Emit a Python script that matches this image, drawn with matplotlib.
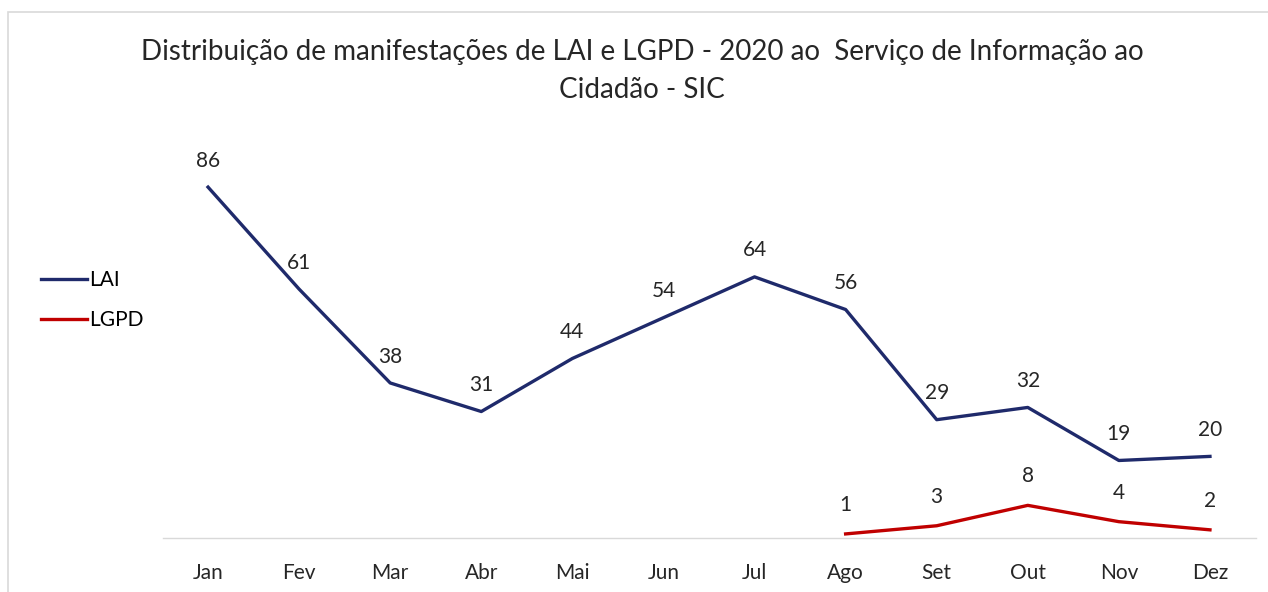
import matplotlib.pyplot as plt
from matplotlib.patches import Rectangle
from matplotlib.lines import Line2D

plt.rcParams['font.family'] = ['Lato', 'DejaVu Sans']

meses = ['Jan', 'Fev', 'Mar', 'Abr', 'Mai', 'Jun', 'Jul', 'Ago', 'Set', 'Out', 'Nov', 'Dez']
lai = [86, 61, 38, 31, 44, 54, 64, 56, 29, 32, 19, 20]
lgpd_meses = ['Ago', 'Set', 'Out', 'Nov', 'Dez']
lgpd = [1, 3, 8, 4, 2]

cor_lai = '#1f2a6b'
cor_lgpd = '#c00000'

fig = plt.figure(figsize=(12.68, 5.92), dpi=100)
ax = fig.add_axes([162.5 / 1268, 54 / 592, 1093 / 1268, 408 / 592])

x_lai = list(range(len(meses)))
x_lgpd = [meses.index(m) for m in lgpd_meses]
ax.plot(x_lai, lai, color=cor_lai, lw=2.4, solid_joinstyle='round')
ax.plot(x_lgpd, lgpd, color=cor_lgpd, lw=2.4, solid_joinstyle='round')

for x, v in zip(x_lai, lai):
    ax.annotate(str(v), (x, v), xytext=(0, 19), textcoords='offset points',
                ha='center', va='center', fontsize=15, color='#262626')
for x, v in zip(x_lgpd, lgpd):
    ax.annotate(str(v), (x, v), xytext=(0, 21), textcoords='offset points',
                ha='center', va='center', fontsize=15, color='#262626')

ax.set_xlim(-0.5, 11.5)
ax.set_ylim(0, 100)
ax.set_xticks(x_lai)
ax.set_xticklabels(meses, fontsize=15, color='#262626')
ax.tick_params(axis='x', length=0, pad=18)
ax.set_yticks([])
for s in ['top', 'right', 'left']:
    ax.spines[s].set_visible(False)
ax.spines['bottom'].set_color('#d9d9d9')
ax.spines['bottom'].set_linewidth(1)

fig.text(642 / 1268, 1 - 52 / 592, 'Distribuição de manifestações de LAI e LGPD - 2020 ao  Serviço de Informação ao',
         ha='center', va='center', fontsize=20, color='#262626')
fig.text(642 / 1268, 1 - 90 / 592, 'Cidadão - SIC', ha='center', va='center', fontsize=20, color='#262626')

handles = [Line2D([], [], color=cor_lai, lw=2.4), Line2D([], [], color=cor_lgpd, lw=2.4)]
fig.legend(handles, ['LAI', 'LGPD'], loc='center left', bbox_to_anchor=(22 / 1268, 1 - 300 / 592),
           frameon=False, fontsize=15, handlelength=2.2, handletextpad=0.1, labelspacing=0.95)

fig.patches.append(Rectangle((8 / 1268, -0.1), 1.2, 1 - 12 / 592 + 0.1, transform=fig.transFigure,
                             fill=False, edgecolor='#d9d9d9', lw=1.2))

fig.savefig('out.png', dpi=100)
